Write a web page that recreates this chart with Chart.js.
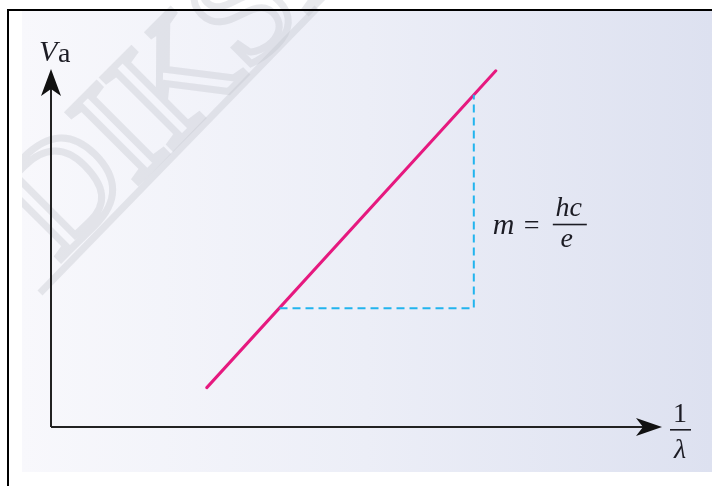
<!DOCTYPE html>
<html>
<head>
<meta charset="utf-8">
<script src="https://cdn.jsdelivr.net/npm/chart.js@4.4.1/dist/chart.umd.min.js"></script>
<style>
  html, body { margin: 0; padding: 0; background: #ffffff; }
  #wrap { width: 712px; height: 486px; position: relative; }
</style>
</head>
<body>
<div id="wrap"><canvas id="graph" width="712" height="486"></canvas></div>
<script>
// stopping potential vs 1/lambda, arbitrary units on both axes
const axisMax = { x: 10, y: 10 };
const invLambda = [2.55, 7.28];
const stopVoltage = [1.1, 9.95];

// slope triangle under the line
const slopeX = [3.74, 6.92, 6.92];
const slopeY = [3.32, 3.32, 9.28];

const lineColor = '#e6197f';
const dashColor = '#22b4ee';
const inkColor = '#1c1c24';

function toPoints(xs, ys) {
    return xs.map((x, i) => ({ x: x, y: ys[i] }));
}

const backdrop = {
    id: 'backdrop',
    beforeDraw(chart) {
        const ctx = chart.ctx;
        ctx.save();
        ctx.fillStyle = '#ffffff';
        ctx.fillRect(0, 0, chart.width, chart.height);

        // panel with soft left-to-right tint
        const g = ctx.createLinearGradient(22, 0, 712, 0);
        g.addColorStop(0, '#f8f8fc');
        g.addColorStop(0.5, '#eceef7');
        g.addColorStop(1, '#dde1f0');
        ctx.fillStyle = g;
        ctx.fillRect(22, 11, 690, 461);

        // faint watermark
        ctx.save();
        ctx.beginPath();
        ctx.rect(22, 0, 690, 472);
        ctx.clip();
        ctx.strokeStyle = 'rgba(195,196,206,0.38)';
        ctx.lineWidth = 7;
        ctx.save();
        ctx.translate(58, 262);
        ctx.rotate(-Math.PI / 4);
        ctx.font = '150px "Liberation Serif", serif';
        ctx.strokeText('DIKSHA', 0, 0);
        ctx.restore();
        ctx.beginPath();
        ctx.moveTo(40, 293);
        ctx.lineTo(317, 8);
        ctx.stroke();
        ctx.restore();

        // frame
        ctx.fillStyle = '#000000';
        ctx.fillRect(8, 9, 704, 2);
        ctx.fillRect(7, 9, 2, 477);
        ctx.restore();
    },
    afterDatasetsDraw(chart) {
        const ctx = chart.ctx;
        const xs = chart.scales.x, ys = chart.scales.y;
        const ox = xs.getPixelForValue(0), oy = ys.getPixelForValue(0);
        const tipX = xs.getPixelForValue(axisMax.x), tipY = ys.getPixelForValue(axisMax.y);
        ctx.save();
        ctx.strokeStyle = '#222';
        ctx.fillStyle = '#111';
        ctx.lineWidth = 2;
        ctx.beginPath();
        ctx.moveTo(ox, oy);
        ctx.lineTo(ox, tipY + 12);
        ctx.moveTo(ox, oy);
        ctx.lineTo(tipX - 12, oy);
        ctx.stroke();

        // arrow heads
        ctx.beginPath();
        ctx.moveTo(ox, tipY);
        ctx.lineTo(ox - 10, tipY + 27);
        ctx.lineTo(ox, tipY + 20);
        ctx.lineTo(ox + 10, tipY + 27);
        ctx.closePath();
        ctx.fill();
        ctx.beginPath();
        ctx.moveTo(tipX, oy);
        ctx.lineTo(tipX - 26, oy - 9);
        ctx.lineTo(tipX - 19, oy);
        ctx.lineTo(tipX - 26, oy + 9);
        ctx.closePath();
        ctx.fill();

        // axis labels
        ctx.fillStyle = inkColor;
        ctx.textBaseline = 'alphabetic';
        ctx.textAlign = 'left';
        ctx.font = 'italic 30px "Liberation Serif", serif';
        ctx.fillText('V', ox - 12, tipY - 8);
        ctx.font = '28px "Liberation Serif", serif';
        ctx.fillText('a', ox + 7, tipY - 7);

        ctx.textAlign = 'center';
        ctx.font = '28px "Liberation Serif", serif';
        ctx.fillText('1', tipX + 18, oy - 5);
        ctx.fillRect(tipX + 8, oy + 2, 21, 1.6);
        ctx.font = 'italic 28px "Liberation Serif", serif';
        ctx.fillText('\u03bb', tipX + 18, oy + 31);

        // slope label
        const lx = xs.getPixelForValue(slopeX[1]) + 19;
        const ly = ys.getPixelForValue(5.65);
        ctx.textAlign = 'left';
        ctx.font = 'italic 30px "Liberation Serif", serif';
        ctx.fillText('m', lx, ly + 9);
        ctx.font = '28px "Liberation Serif", serif';
        ctx.fillText('=', lx + 31, ly + 9);
        ctx.textAlign = 'center';
        ctx.font = 'italic 28px "Liberation Serif", serif';
        ctx.fillText('hc', lx + 76, ly - 9);
        ctx.fillRect(lx + 60, ly - 1, 34, 1.6);
        ctx.fillText('e', lx + 74, ly + 22);
        ctx.restore();
    }
};

new Chart(document.getElementById('graph'), {
    type: 'scatter',
    data: {
        datasets: [
            {
                data: toPoints(slopeX, slopeY),
                showLine: true,
                borderColor: dashColor,
                borderWidth: 2,
                borderDash: [8, 5],
                pointRadius: 0,
                fill: false
            },
            {
                data: toPoints(invLambda, stopVoltage),
                showLine: true,
                borderColor: lineColor,
                borderWidth: 3,
                borderCapStyle: 'round',
                pointRadius: 0,
                fill: false
            }
        ]
    },
    options: {
        responsive: false,
        animation: false,
        devicePixelRatio: 1,
        layout: { padding: { left: 51, right: 50, top: 69, bottom: 59 } },
        plugins: { legend: { display: false }, tooltip: { enabled: false } },
        scales: {
            x: { type: 'linear', min: 0, max: axisMax.x, display: false },
            y: { type: 'linear', min: 0, max: axisMax.y, display: false }
        }
    },
    plugins: [backdrop]
});
</script>
</body>
</html>
